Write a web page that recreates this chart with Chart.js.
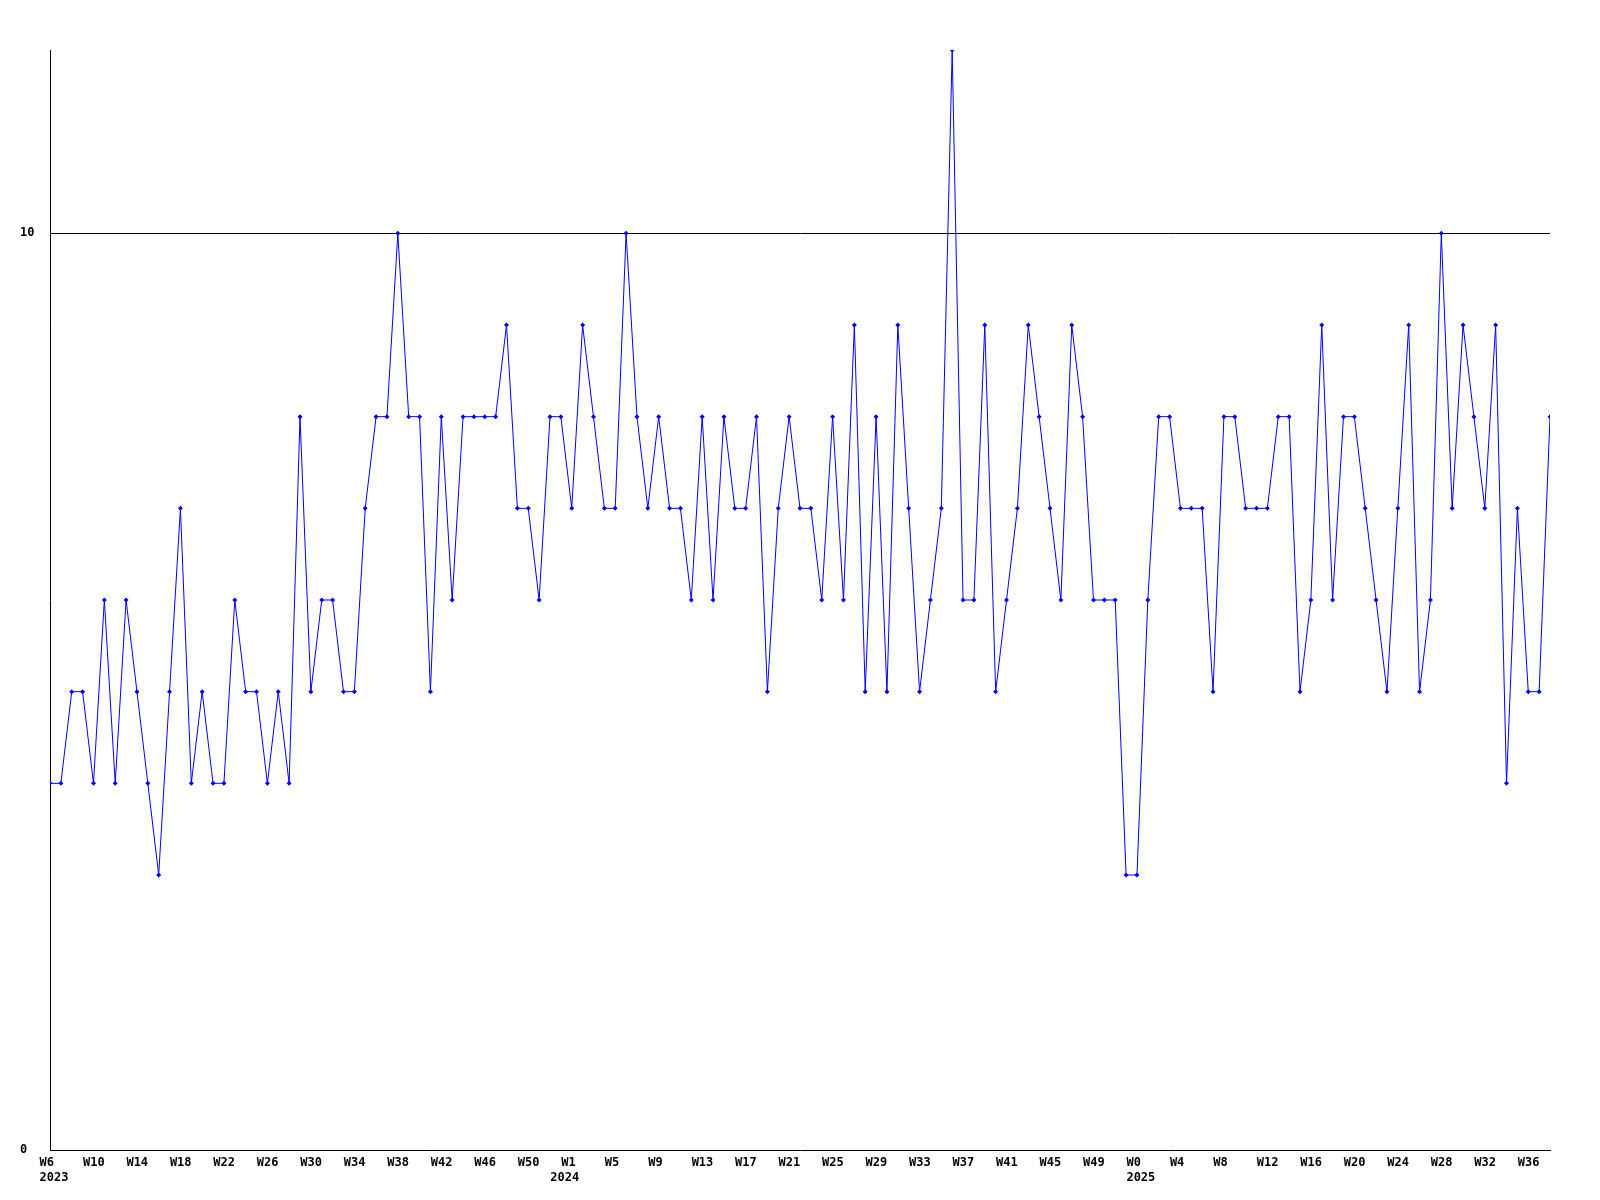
<!DOCTYPE html>
<html>
<head>
<meta charset="utf-8">
<script src="https://cdn.jsdelivr.net/npm/chart.js@4/dist/chart.umd.min.js"></script>
<style>
  html, body { margin: 0; padding: 0; background: #fff; }
  #wrap { width: 1600px; height: 1200px; position: relative; }
</style>
</head>
<body>
<div id="wrap"><canvas id="chart"></canvas></div>
<script>
// weekly values
const years = [2023, 2024, 2025];
const weeks2023 = [6, 52];   // first and last week number of each year
const weeks2024 = [0, 52];
const weeks2025 = [0, 38];

const values2023 = [4, 4, 5, 5, 4, 6, 4, 6, 5, 4, 3, 5, 7, 4, 5, 4, 4, 6, 5, 5, 4, 5, 4, 8,
  5, 6, 6, 5, 5, 7, 8, 8, 10, 8, 8, 5, 8, 6, 8, 8, 8, 8, 9, 7, 7, 6, 8];
const values2024 = [8, 7, 9, 8, 7, 7, 10, 8, 7, 8, 7, 7, 6, 8, 6, 8, 7, 7, 8, 5, 7, 8, 7, 7, 6,
  8, 6, 9, 5, 8, 5, 9, 7, 5, 6, 7, 12, 6, 6, 9, 5, 6, 7, 9, 8, 7, 6, 9, 8, 6, 6, 6, 3];
const values2025 = [3, 6, 8, 8, 7, 7, 7, 5, 8, 8, 7, 7, 7, 8, 8, 5, 6, 9, 6, 8, 8, 7, 6, 5,
  7, 9, 5, 6, 10, 7, 9, 8, 7, 9, 4, 7, 5, 5, 8];

const yTicks = [0, 10];
const labelEvery = 4;

// week names and the year shown under the first week of each year
const weekNames = [];
const yearNames = [];
[weeks2023, weeks2024, weeks2025].forEach((w, k) => {
  for (let n = w[0]; n <= w[1]; n++) {
    weekNames.push('W' + n);
    yearNames.push(n === w[0] ? String(years[k]) : '');
  }
});
const values = values2023.concat(values2024, values2025);
const points = values.map((v, i) => ({ x: i, y: v }));
const last = values.length - 1;

const tickIndex = weekNames.map((w, i) => i).filter(i => i % labelEvery === 0 || yearNames[i]);

const font = { family: 'DejaVu Sans Mono', size: 12, weight: 'bold', lineHeight: 1.28 };
const LABEL_SHIFT = 0.97; // labels start a little left of their point

new Chart(document.getElementById('chart'), {
  type: 'line',
  data: {
    datasets: [{
      data: points,
      xAxisID: 'x',
      yAxisID: 'y',
      borderColor: '#0000ff',
      backgroundColor: '#0000ff',
      borderWidth: 1,
      pointStyle: 'rectRot',
      pointRadius: 2.5,
      pointBorderWidth: 0,
      tension: 0
    }]
  },
  options: {
    responsive: true,
    maintainAspectRatio: false,
    animation: false,
    layout: { padding: { left: 20, right: 50, top: 50, bottom: 0 } },
    plugins: { legend: { display: false }, tooltip: { enabled: false } },
    scales: {
      x: { type: 'linear', display: false, min: 0, max: last },
      x2: {
        type: 'linear',
        position: 'bottom',
        min: LABEL_SHIFT,
        max: last + LABEL_SHIFT,
        grid: { display: false, drawTicks: false },
        border: { display: true, color: '#000', width: 1 },
        afterBuildTicks: (s) => { s.ticks = tickIndex.map(i => ({ value: i })); },
        afterFit: (s) => { s.height = 50; },
        ticks: {
          autoSkip: false,
          maxRotation: 0,
          minRotation: 0,
          align: 'start',
          padding: 5,
          color: '#000',
          font: font,
          callback: (v) => {
            const top = v % labelEvery === 0 ? weekNames[v] : '';
            return yearNames[v] ? [top, yearNames[v]] : top;
          }
        }
      },
      y: {
        min: 0,
        max: 12,
        afterBuildTicks: (s) => { s.ticks = yTicks.map(v => ({ value: v })); },
        afterFit: (s) => { s.width = 30; },
        grid: {
          drawTicks: false,
          color: (c) => c.tick && c.tick.value === 10 ? '#000' : 'rgba(0,0,0,0)',
          lineWidth: 1
        },
        border: { display: true, color: '#000', width: 1 },
        ticks: { crossAlign: 'far', padding: 0, color: '#000', font: font }
      }
    }
  }
});
</script>
</body>
</html>
